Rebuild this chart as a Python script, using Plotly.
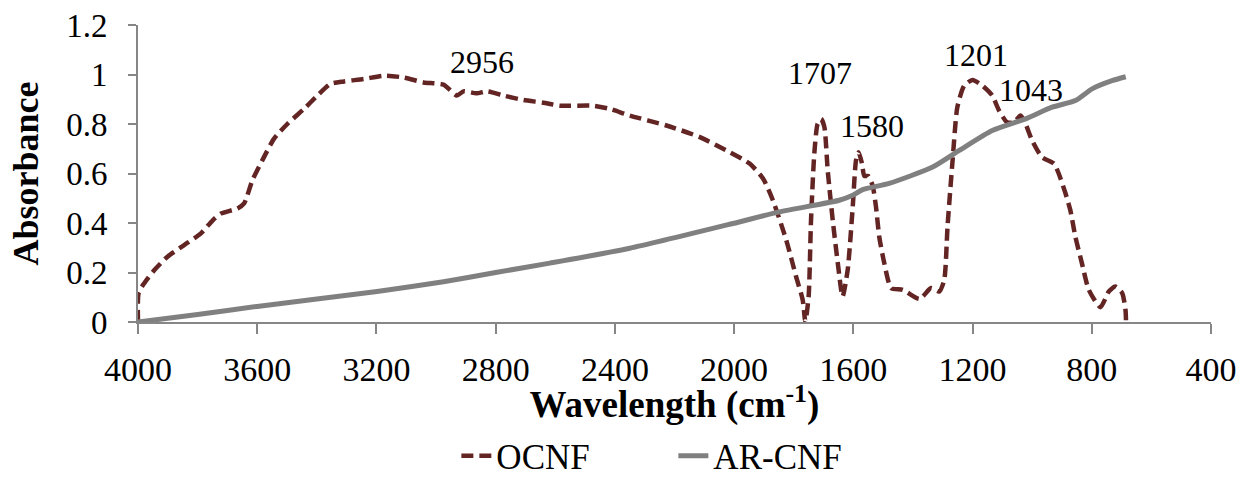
import plotly.graph_objects as go

# OCNF spectrum (wavenumber, absorbance)
ocnf_wn = [4000, 3998, 3979, 3945, 3901, 3845, 3789, 3750, 3722, 3666, 3644, 3616, 3583, 3544,
           3499, 3443, 3398, 3354, 3309, 3242, 3176, 3109, 3042, 2975, 2930, 2908, 2863, 2830,
           2774, 2707, 2640, 2584, 2473, 2417, 2350, 2227, 2115, 2026, 1948, 1903, 1870, 1825,
           1792, 1770, 1761, 1750, 1742, 1731, 1720, 1708, 1697, 1686, 1669, 1652, 1636, 1619,
           1602, 1591, 1582, 1571, 1563, 1550, 1535, 1524, 1513, 1496, 1473, 1434, 1378, 1339,
           1312, 1295, 1284, 1267, 1251, 1228, 1200, 1167, 1134, 1111, 1084, 1061, 1039, 1022,
           1000, 967, 927, 911, 888, 872, 855, 833, 810, 771, 743, 721, 698, 687, 685]
ocnf_abs = [0.0, 0.117, 0.157, 0.21, 0.264, 0.311, 0.358, 0.41, 0.438, 0.459, 0.479, 0.573, 0.653, 0.74,
            0.80, 0.861, 0.915, 0.962, 0.972, 0.982, 0.995, 0.988, 0.968, 0.959, 0.915, 0.932, 0.924, 0.932,
            0.915, 0.897, 0.886, 0.874, 0.874, 0.861, 0.834, 0.794, 0.747, 0.693, 0.64, 0.58, 0.492, 0.331,
            0.183, 0.09, 0.002, 0.103, 0.41, 0.68, 0.80, 0.82, 0.787, 0.613, 0.41, 0.237, 0.103, 0.21,
            0.465, 0.653, 0.686, 0.64, 0.59, 0.59, 0.55, 0.465, 0.344, 0.237, 0.137, 0.13, 0.093, 0.137,
            0.123, 0.17, 0.385, 0.653, 0.868, 0.955, 0.978, 0.955, 0.915, 0.854, 0.807, 0.807, 0.834, 0.80,
            0.733, 0.666, 0.64, 0.60, 0.519, 0.452, 0.344, 0.237, 0.13, 0.06, 0.123, 0.143, 0.117, 0.05, 0.0]

# AR-CNF spectrum
ar_wn = [4000, 3800, 3600, 3400, 3198, 2975, 2800, 2618, 2350, 2004, 1848, 1647, 1602, 1569,
         1480, 1334, 1245, 1134, 1022, 933, 855, 799, 732, 686]
ar_abs = [0.0, 0.03, 0.063, 0.093, 0.123, 0.163, 0.2, 0.238, 0.298, 0.398, 0.445, 0.492, 0.512, 0.535,
          0.56, 0.626, 0.693, 0.774, 0.821, 0.868, 0.895, 0.942, 0.975, 0.991]

# Peak labels
peak_text = ["2956", "1707", "1580", "1201", "1043"]
peak_x = [2847, 1711, 1539, 1188, 1005]
peak_y = [1.051, 1.007, 0.791, 1.078, 0.937]

x_ticks = [4000, 3600, 3200, 2800, 2400, 2000, 1600, 1200, 800, 400]
y_ticks = [0, 0.2, 0.4, 0.6, 0.8, 1.0, 1.2]
y_tick_text = ["0", "0.2", "0.4", "0.6", "0.8", "1", "1.2"]

FONT = "Liberation Serif"
AXC = "#868686"

fig = go.Figure()
fig.add_trace(go.Scatter(x=ocnf_wn, y=ocnf_abs, mode="lines", name="OCNF",
                         line=dict(color="#632523", width=4.5, dash="12px,6px", shape="spline", smoothing=0.6)))
fig.add_trace(go.Scatter(x=ar_wn, y=ar_abs, mode="lines", name="AR-CNF",
                         line=dict(color="#808080", width=5, shape="spline", smoothing=0.6)))

for t, xx, yy in zip(peak_text, peak_x, peak_y):
    fig.add_annotation(x=xx, y=yy, xref="x", yref="y", text=t, showarrow=False,
                       font=dict(family=FONT, size=32, color="black"))

fig.update_layout(
    width=1242, height=481,
    margin=dict(l=137.5, r=31, t=25, b=158.7, autoexpand=False),
    paper_bgcolor="white", plot_bgcolor="white",
    font=dict(family=FONT, size=32, color="black"),
    showlegend=True,
    legend=dict(orientation="h", x=0.2967, xanchor="left", yref="container", y=0.052, yanchor="middle",
                entrywidth=172, entrywidthmode="pixels",
                font=dict(family=FONT, size=35, color="black"), bgcolor="rgba(0,0,0,0)"),
)
fig.update_xaxes(range=[4000, 400], tickvals=x_ticks, ticktext=[str(v) for v in x_ticks],
                 showline=True, linecolor=AXC, linewidth=2, ticks="outside", ticklen=10,
                 tickcolor=AXC, tickwidth=2, showgrid=False, zeroline=False, automargin=False,
                 ticklabelstandoff=6,
                 tickfont=dict(family=FONT, size=34, color="black"),
                 title=dict(text="<b>Wavelength (cm<sup>-1</sup>)</b>",
                            font=dict(family=FONT, size=37, color="black"), standoff=9))
fig.update_yaxes(range=[0, 1.2], tickvals=y_ticks, ticktext=y_tick_text,
                 showline=True, linecolor=AXC, linewidth=2, ticks="outside", ticklen=8,
                 tickcolor=AXC, tickwidth=2, showgrid=False, zeroline=False, automargin=False,
                 ticklabelstandoff=14,
                 tickfont=dict(family=FONT, size=33, color="black"),
                 title=dict(text="<b>Absorbance</b>",
                            font=dict(family=FONT, size=36, color="black"), standoff=17))

fig.write_html("out.html")
